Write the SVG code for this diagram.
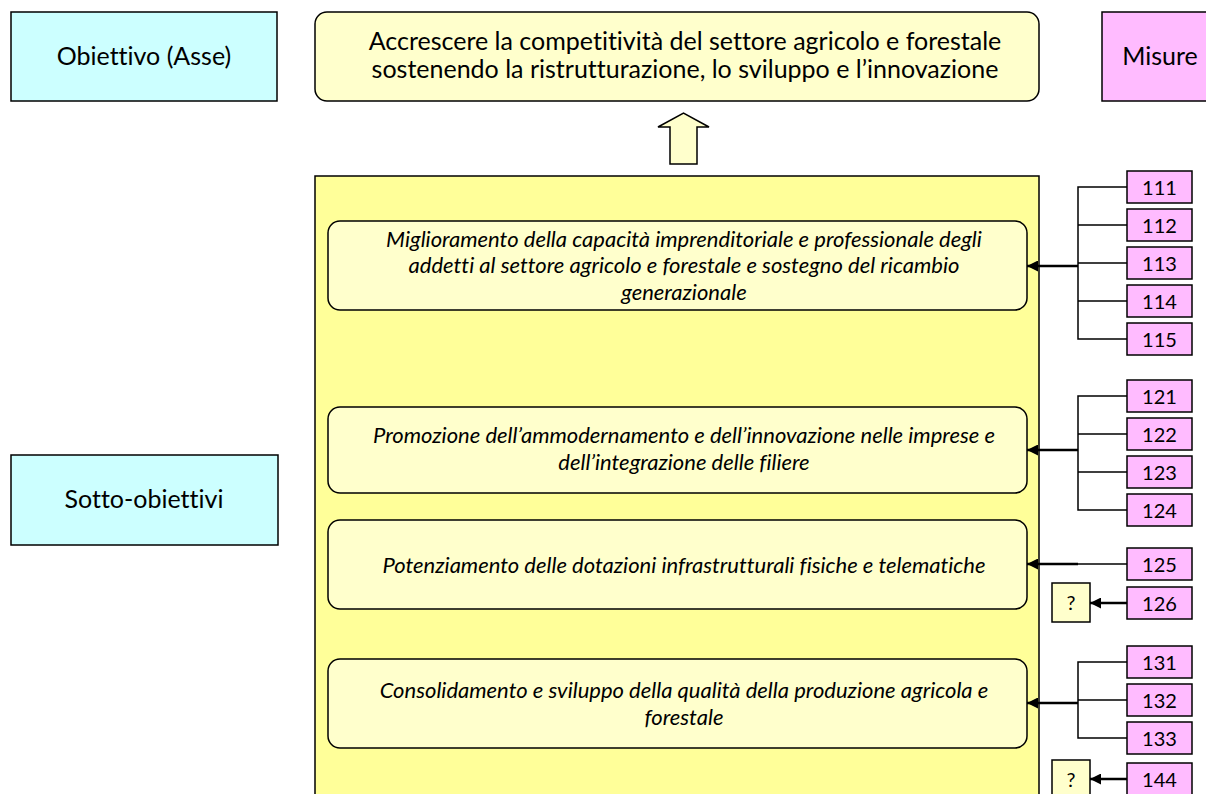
<svg xmlns="http://www.w3.org/2000/svg" width="1206" height="794" viewBox="0 0 1206 794">
<style>
.lbl{fill:#CCFFFF;stroke:#000;stroke-width:1.5}
.mis{fill:#FFBBFF;stroke:#000;stroke-width:1.5}
.sub{fill:#FFFFCC;stroke:#000;stroke-width:1.5}
.t{font-family:Lato,"Liberation Sans",sans-serif;fill:#000;text-anchor:middle;font-variant-ligatures:none}
.big{font-size:25px}
.it{font-size:22px;font-style:italic}
.num{font-size:20px}
.c{stroke:#000;stroke-width:1.5;fill:none}
.m{stroke:#000;stroke-width:2.5;fill:none}
</style>
<defs>
<marker id="ah" viewBox="0 0 10 10" refX="10" refY="5" markerWidth="11" markerHeight="11" markerUnits="userSpaceOnUse" orient="auto">
<path d="M0,0 L10,5 L0,10 z" fill="#000"/>
</marker>
</defs>
<rect width="1206" height="794" fill="#fff"/>
<g id="obiettivo">
<rect class="lbl" x="11" y="12" width="266" height="89"/>
<text class="t big" x="144" y="65">Obiettivo (Asse)</text>
</g>
<g id="misure">
<rect class="mis" x="1102" y="12" width="120" height="89"/>
<text class="t big" x="1160" y="65">Misure</text>
</g>
<g id="asse">
<rect class="sub" x="315" y="12" width="724" height="89" rx="12"/>
<text class="t big" x="685" y="50">Accrescere la competitività del settore agricolo e forestale</text>
<text class="t big" x="685" y="78">sostenendo la ristrutturazione, lo sviluppo e l’innovazione</text>
</g>
<g id="freccia">
<path d="M670,164 L670,127 L658,127 L683.5,113 L709,127 L697,127 L697,164 Z" fill="#FFFFCC" stroke="#000" stroke-width="1.5"/>
</g>
<g id="sottoobiettivi">
<rect class="lbl" x="11" y="455" width="267" height="90"/>
<text class="t big" x="144" y="508">Sotto-obiettivi</text>
</g>
<g id="contenitore">
<rect x="315" y="176" width="724" height="630" fill="#FFFF99" stroke="#000" stroke-width="1.5"/>
</g>
<g id="so1">
<rect class="sub" x="328" y="221" width="699" height="89" rx="12"/>
<text class="t it" x="684" y="247">Miglioramento della capacità imprenditoriale e professionale degli</text>
<text class="t it" x="684" y="273">addetti al settore agricolo e forestale e sostegno del ricambio</text>
<text class="t it" x="684" y="300">generazionale</text>
</g>
<g id="so2">
<rect class="sub" x="328" y="407" width="699" height="86" rx="12"/>
<text class="t it" x="684" y="443">Promozione dell’ammodernamento e dell’innovazione nelle imprese e</text>
<text class="t it" x="684" y="470">dell’integrazione delle filiere</text>
</g>
<g id="so3">
<rect class="sub" x="328" y="520" width="699" height="89" rx="12"/>
<text class="t it" x="684" y="573">Potenziamento delle dotazioni infrastrutturali fisiche e telematiche</text>
</g>
<g id="so4">
<rect class="sub" x="328" y="659" width="699" height="89" rx="12"/>
<text class="t it" x="684" y="698">Consolidamento e sviluppo della qualità della produzione agricola e</text>
<text class="t it" x="684" y="725">forestale</text>
</g>
<g id="q1">
<rect class="sub" x="1052" y="583" width="38" height="39"/>
<text class="t num" x="1071" y="610">?</text>
</g>
<g id="q2">
<rect class="sub" x="1052" y="760" width="38" height="39"/>
<text class="t num" x="1071" y="787">?</text>
</g>
<g id="m111"><rect class="mis" x="1127" y="171" width="65" height="32"/><text class="t num" x="1159.5" y="195">111</text></g>
<g id="m112"><rect class="mis" x="1127" y="209" width="65" height="32"/><text class="t num" x="1159.5" y="233">112</text></g>
<g id="m113"><rect class="mis" x="1127" y="247" width="65" height="32"/><text class="t num" x="1159.5" y="271">113</text></g>
<g id="m114"><rect class="mis" x="1127" y="285" width="65" height="32"/><text class="t num" x="1159.5" y="309">114</text></g>
<g id="m115"><rect class="mis" x="1127" y="323" width="65" height="32"/><text class="t num" x="1159.5" y="347">115</text></g>
<g id="m121"><rect class="mis" x="1127" y="380" width="65" height="32"/><text class="t num" x="1159.5" y="404">121</text></g>
<g id="m122"><rect class="mis" x="1127" y="418" width="65" height="32"/><text class="t num" x="1159.5" y="442">122</text></g>
<g id="m123"><rect class="mis" x="1127" y="456" width="65" height="32"/><text class="t num" x="1159.5" y="480">123</text></g>
<g id="m124"><rect class="mis" x="1127" y="494" width="65" height="32"/><text class="t num" x="1159.5" y="518">124</text></g>
<g id="m125"><rect class="mis" x="1127" y="548" width="65" height="32"/><text class="t num" x="1159.5" y="572">125</text></g>
<g id="m126"><rect class="mis" x="1127" y="587" width="65" height="32"/><text class="t num" x="1159.5" y="611">126</text></g>
<g id="m131"><rect class="mis" x="1127" y="646" width="65" height="32"/><text class="t num" x="1159.5" y="670">131</text></g>
<g id="m132"><rect class="mis" x="1127" y="684" width="65" height="32"/><text class="t num" x="1159.5" y="708">132</text></g>
<g id="m133"><rect class="mis" x="1127" y="722" width="65" height="32"/><text class="t num" x="1159.5" y="746">133</text></g>
<g id="m144"><rect class="mis" x="1127" y="763" width="65" height="32"/><text class="t num" x="1159.5" y="787">144</text></g>
<g id="connettori">
<path class="c" d="M1127,187 H1078 V339 H1127 M1078,225 H1127 M1078,263 H1127 M1078,301 H1127"/>
<line class="m" x1="1078" y1="266" x2="1027" y2="266" marker-end="url(#ah)"/>
<path class="c" d="M1127,396 H1078 V510 H1127 M1078,434 H1127 M1078,472 H1127"/>
<line class="m" x1="1078" y1="450" x2="1027" y2="450" marker-end="url(#ah)"/>
<line class="c" x1="1127" y1="564" x2="1078" y2="564"/>
<line class="m" x1="1078" y1="564" x2="1027" y2="564" marker-end="url(#ah)"/>
<line class="m" x1="1127" y1="603" x2="1090" y2="603" marker-end="url(#ah)"/>
<path class="c" d="M1127,662 H1078 V738 H1127 M1078,700 H1127"/>
<line class="m" x1="1078" y1="703" x2="1027" y2="703" marker-end="url(#ah)"/>
<line class="m" x1="1127" y1="779" x2="1090" y2="779" marker-end="url(#ah)"/>
</g>
</svg>
